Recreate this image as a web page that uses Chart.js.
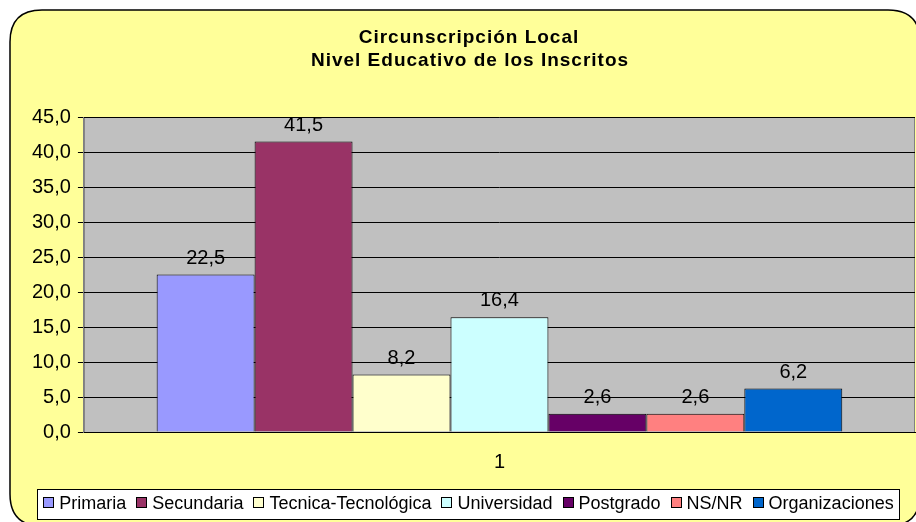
<!DOCTYPE html>
<html>
<head>
<meta charset="utf-8">
<script src="https://cdn.jsdelivr.net/npm/chart.js@4.4.0/dist/chart.umd.min.js"></script>
<style>
  html, body { margin: 0; padding: 0; background: #ffffff; }
  #wrap { width: 916px; height: 522px; position: relative; }
</style>
</head>
<body>
<div id="wrap"><canvas id="nivelChart"></canvas></div>
<script>
const categories = ['1'];
const seriesNames = ['Primaria', 'Secundaria', 'Tecnica-Tecnológica', 'Universidad', 'Postgrado', 'NS/NR', 'Organizaciones'];
const seriesValues = [22.5, 41.5, 8.2, 16.4, 2.6, 2.6, 6.2];
const seriesColors = ['#9999FF', '#993366', '#FFFFCC', '#CCFFFF', '#660066', '#FF8080', '#0066CC'];
const titleLines = ['Circunscripción Local', 'Nivel Educativo de los Inscritos'];

const FONT = '"Liberation Sans", Arial, sans-serif';
const fmt = v => v.toFixed(1).replace('.', ',');

// yellow rounded frame, grey plot area, title
const framePlugin = {
    id: 'frame',
    beforeDraw(chart) {
        const ctx = chart.ctx;
        const a = chart.chartArea;
        ctx.save();
        const x = 10, y = 10, w = 910, h = 516, r = 32;
        ctx.beginPath();
        ctx.moveTo(x + r, y);
        ctx.lineTo(x + w - r, y);
        ctx.quadraticCurveTo(x + w, y, x + w, y + r);
        ctx.lineTo(x + w, y + h - r);
        ctx.quadraticCurveTo(x + w, y + h, x + w - r, y + h);
        ctx.lineTo(x + r, y + h);
        ctx.quadraticCurveTo(x, y + h, x, y + h - r);
        ctx.lineTo(x, y + r);
        ctx.quadraticCurveTo(x, y, x + r, y);
        ctx.closePath();
        ctx.fillStyle = '#FFFF99';
        ctx.fill();
        ctx.lineWidth = 1.5;
        ctx.strokeStyle = '#000000';
        ctx.stroke();
        ctx.fillStyle = '#C0C0C0';
        ctx.fillRect(a.left, a.top, a.right - a.left, a.bottom - a.top);
        ctx.strokeStyle = '#808080';
        ctx.lineWidth = 1;
        ctx.strokeRect(a.left + 0.5, a.top + 0.5, a.right - a.left - 1, a.bottom - a.top);
        // title, spaced a little like the original
        ctx.fillStyle = '#000000';
        ctx.font = 'bold 19px ' + FONT;
        ctx.letterSpacing = '1px';
        ctx.textAlign = 'center';
        ctx.textBaseline = 'middle';
        ctx.fillText(titleLines[0], 469, 38);
        ctx.fillText(titleLines[1], 470, 61);
        ctx.restore();
    }
};

// Excel style legend in a white box under the plot
const legendBox = {
    id: 'legendBox',
    afterDraw(chart) {
        const ctx = chart.ctx;
        ctx.save();
        ctx.font = '18px ' + FONT;
        const box = 11, gapText = 5, gapItem = 10;
        const widths = seriesNames.map(n => ctx.measureText(n).width);
        const total = widths.reduce((s, wd) => s + box + gapText + wd, 0) + gapItem * (seriesNames.length - 1);
        const cx = 468.5, cy = 503;
        const left = cx - total / 2 - 6, right = cx + total / 2 + 6;
        ctx.fillStyle = '#FFFFFF';
        ctx.fillRect(left, 489, right - left, 30);
        ctx.strokeStyle = '#000000';
        ctx.lineWidth = 1;
        ctx.strokeRect(Math.round(left) + 0.5, 489.5, Math.round(right - left), 30);
        let px = cx - total / 2;
        ctx.textBaseline = 'middle';
        ctx.textAlign = 'left';
        seriesNames.forEach((n, i) => {
            ctx.fillStyle = seriesColors[i];
            ctx.fillRect(Math.round(px) + 0.5, cy - 5.5, box - 1, box - 1);
            ctx.strokeStyle = '#000000';
            ctx.strokeRect(Math.round(px) + 0.5, cy - 5.5, box - 1, box - 1);
            ctx.fillStyle = '#000000';
            ctx.fillText(n, px + box + gapText, cy + 1);
            px += box + gapText + widths[i] + gapItem;
        });
        ctx.restore();
    }
};

// value labels above each bar
const valueLabels = {
    id: 'valueLabels',
    afterDatasetsDraw(chart) {
        const ctx = chart.ctx;
        ctx.save();
        ctx.font = '20px ' + FONT;
        ctx.fillStyle = '#000000';
        ctx.textAlign = 'center';
        ctx.textBaseline = 'alphabetic';
        chart.data.datasets.forEach((ds, i) => {
            chart.getDatasetMeta(i).data.forEach((bar, j) => {
                ctx.fillText(fmt(ds.data[j]), bar.x, bar.y - 11);
            });
        });
        ctx.restore();
    }
};

const datasets = seriesNames.map((name, i) => ({
    label: name,
    data: [seriesValues[i]],
    backgroundColor: seriesColors[i],
    borderColor: '#000000',
    borderWidth: 1
}));

new Chart(document.getElementById('nivelChart').getContext('2d'), {
    type: 'bar',
    data: { labels: categories, datasets: datasets },
    options: {
        responsive: true,
        maintainAspectRatio: false,
        animation: false,
        categoryPercentage: 0.825,
        barPercentage: 1,
        layout: { padding: { left: 25, right: 1, top: 117, bottom: 38 } },
        plugins: {
            title: { display: false },
            legend: { display: false },
            tooltip: { enabled: false }
        },
        scales: {
            x: {
                grid: { display: false },
                border: { color: '#000000' },
                ticks: { color: '#000000', font: { family: FONT, size: 20 }, padding: 10 }
            },
            y: {
                min: 0,
                max: 45,
                border: { color: '#808080' },
                grid: { color: '#000000', tickLength: 6, tickColor: '#000000' },
                ticks: {
                    stepSize: 5,
                    color: '#000000',
                    font: { family: FONT, size: 20 },
                    padding: 7,
                    callback: v => fmt(v)
                }
            }
        }
    },
    plugins: [framePlugin, valueLabels, legendBox]
});
</script>
</body>
</html>
